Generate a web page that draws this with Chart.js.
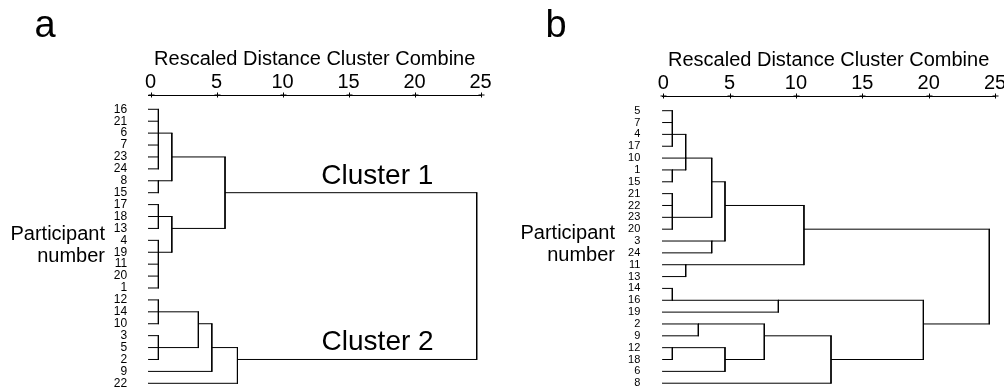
<!DOCTYPE html>
<html><head><meta charset="utf-8">
<script src="https://cdn.jsdelivr.net/npm/chart.js@4/dist/chart.umd.min.js"></script>
<style>
html,body{margin:0;padding:0;background:#fff;width:1004px;height:387px;overflow:hidden;position:relative;font-family:'Liberation Sans',Arial,sans-serif;}
canvas{position:absolute;top:0;}
.t{position:absolute;white-space:nowrap;line-height:1;color:#000;font-family:'Liberation Sans',Arial,sans-serif;}
.r{text-align:right;width:120px;}
</style></head><body>
<canvas id="ca" width="500" height="387" style="left:0"></canvas>
<canvas id="cb" width="504" height="387" style="left:500px"></canvas>
<div class="t" style="left:34.6px;top:4.8px;font-size:38px">a</div>
<div class="t" style="left:545.5px;top:4.8px;font-size:38px">b</div>
<div class="t r" style="left:-15px;top:223.1px;font-size:20px">Participant</div>
<div class="t r" style="left:-15px;top:244.8px;font-size:20px">number</div>
<div class="t r" style="left:495px;top:221.6px;font-size:20px">Participant</div>
<div class="t r" style="left:495px;top:243.6px;font-size:20px">number</div>
<div class="t" style="left:321.3px;top:161.3px;font-size:28px">Cluster 1</div>
<div class="t" style="left:321.6px;top:327px;font-size:28px">Cluster 2</div>
<script>
// ---- data ----
const xTickValues = [0, 5, 10, 15, 20, 25];
const axisTitle = 'Rescaled Distance Cluster Combine';

// panel a
const leavesA = ['16','21','6','7','23','24','8','15','17','18','13','4','19','11','20','1','12','14','10','3','5','2','9','22'];
const mergeHeightA = [0.59, 0.59, 0.59, 0.59, 0.59, 0.59, 1.61, 1.61, 3.62, 4.64, 5.64, 6.58, 24.71];
const mergeRowsA = [[0,1,2,3,4,5],[6,7],[8,9,10],[11,12,13,14,15],[16,17,18],[19,20,21],[2,6],[9,12],[17,20],[18,22],[4,10],[20,23],[7,21]];
const mergeOutA = [2, 6, 9, 12, 17, 20, 4, 10, 18, 20, 7, 21, null];
const leafStartA = -0.18;

// panel b
const leavesB = ['5','7','4','17','10','1','15','21','22','23','20','3','24','11','13','14','16','19','2','9','12','18','6','8'];
const mergeHeightB = [0.68, 0.68, 0.68, 0.68, 0.68, 1.69, 1.69, 2.64, 3.65, 3.65, 4.65, 4.65, 7.61, 8.67, 10.6, 12.64, 19.6, 24.57];
const mergeRowsB = [[0,1,2,3],[5,6],[7,8,9,10],[15,16],[20,21],[2,4,5],[13,14],[18,19],[4,9],[11,12],[6,11],[20,22],[18,21],[16,17],[8,13],[19,23],[16,21],[10,18]];
const mergeOutB = [2, 5, 9, 16, 20, 4, 13, 18, 6, 11, 8, 21, 19, 16, 10, 21, 18, null];
const leafStartB = -0.075;

// ---- build line segments from merge table ----
function buildSegments(heights, rows, outs, leafStart, nRows) {
  const cur = new Array(nRows).fill(leafStart);
  const pts = [];
  heights.forEach((h, k) => {
    const rs = rows[k];
    rs.forEach(r => { pts.push({x: cur[r], y: r}, {x: h, y: r}, {x: null, y: null}); });
    pts.push({x: h, y: Math.min(...rs)}, {x: h, y: Math.max(...rs)}, {x: null, y: null});
    if (outs[k] !== null) cur[outs[k]] = h;
  });
  return pts;
}

const plusTicks = {
  id: 'plusTicks',
  afterDraw(chart) {
    const s = chart.scales.x, ctx = chart.ctx, y = chart.chartArea.top;
    ctx.save();
    ctx.strokeStyle = '#000'; ctx.lineWidth = 1;
    s.ticks.forEach(t => {
      const px = Math.round(s.getPixelForValue(t.value)) + 0.5;
      ctx.beginPath();
      ctx.moveTo(px, y - 2.5); ctx.lineTo(px, y + 2.5);
      ctx.moveTo(px - 3, y); ctx.lineTo(px + 3, y);
      ctx.stroke();
    });
    ctx.restore();
  }
};

function makeChart(id, p) {
  const segs = buildSegments(p.heights, p.rows, p.outs, p.leafStart, p.leaves.length);
  return new Chart(document.getElementById(id), {
    type: 'scatter',
    data: { datasets: [{
      data: segs, showLine: true, spanGaps: false, borderColor: '#000', borderWidth: 1,
      pointRadius: 0, pointHoverRadius: 0, pointHitRadius: 0, borderCapStyle: 'square', clip: false
    }]},
    options: {
      responsive: false, animation: false, devicePixelRatio: 1, events: [],
      layout: { padding: { left: 0, top: 0, right: p.padR, bottom: 0 } },
      plugins: { legend: { display: false }, tooltip: { enabled: false } },
      scales: {
        x: {
          type: 'linear', position: 'top', min: p.leafStart, max: p.xMax,
          afterBuildTicks: s => { s.ticks = xTickValues.map(v => ({ value: v })); },
          afterFit: s => { s.height = p.axisH; s.paddingLeft = 0; s.paddingRight = 0; },
          grid: { drawOnChartArea: false, drawTicks: false },
          border: { display: true, color: '#000', dash: [4, 2.5], width: 1 },
          ticks: { autoSkip: false, maxRotation: 0, color: '#000', font: { size: 20 }, padding: 1,
                   callback: v => String(v) },
          title: { display: true, text: axisTitle, color: '#000', font: { size: 20 },
                   padding: { top: p.titleTop, bottom: 0 } }
        },
        y: {
          type: 'linear', position: 'left', reverse: true, min: p.yMin, max: p.yMax,
          afterBuildTicks: s => { s.ticks = p.leaves.map((_, i) => ({ value: i })); },
          afterFit: s => { s.width = p.yW; s.paddingTop = 0; s.paddingBottom = 0; },
          grid: { display: false }, border: { display: false },
          ticks: { autoSkip: false, color: '#000', font: { size: p.leafFont }, padding: p.labPad,
                   callback: v => p.leaves[v] }
        }
      }
    },
    plugins: [plusTicks]
  });
}

Chart.defaults.font.family = "'Liberation Sans', Arial, sans-serif";
Chart.defaults.color = '#000';

makeChart('ca', { leaves: leavesA, heights: mergeHeightA, rows: mergeRowsA, outs: mergeOutA,
  leafStart: leafStartA, xMax: 25.05, padR: 18.8, axisH: 95, yW: 148.2, yMin: -1.2, yMax: 23.31,
  labPad: 13, leafFont: 12, titleTop: 47.5 });
makeChart('cb', { leaves: leavesB, heights: mergeHeightB, rows: mergeRowsB, outs: mergeOutB,
  leafStart: leafStartB, xMax: 25.0, padR: 9, axisH: 96, yW: 162.3, yMin: -1.24, yMax: 23.32,
  labPad: 14, leafFont: 11, titleTop: 48.5 });
</script>
</body></html>
